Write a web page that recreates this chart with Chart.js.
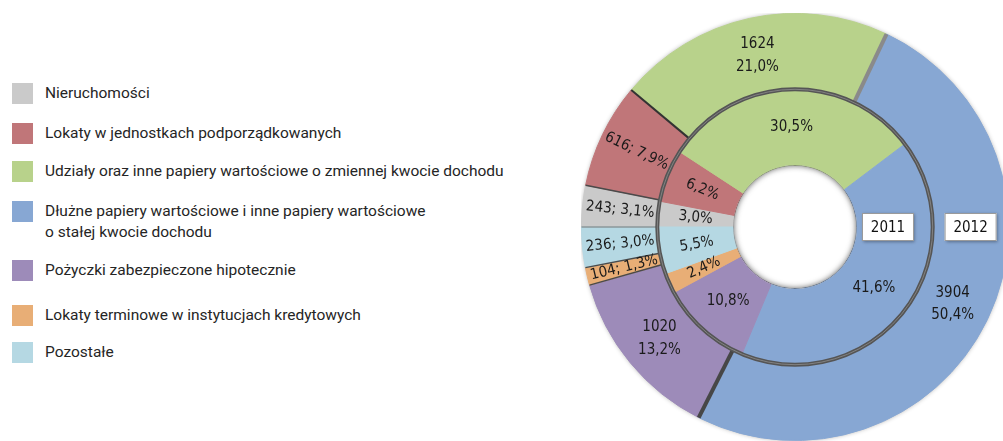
<!DOCTYPE html>
<html lang="pl">
<head>
<meta charset="utf-8">
<title>Struktura lokat</title>
<script src="https://cdn.jsdelivr.net/npm/chart.js@4/dist/chart.umd.min.js"></script>
<style>
  html, body { margin: 0; padding: 0; width: 1003px; height: 441px; overflow: hidden; background: #fff; }
  #legend { position: absolute; left: 12px; top: 0; font-family: Roboto, sans-serif; font-size: 15.5px; color: #252525; }
  .item { position: absolute; left: 0; display: flex; align-items: flex-start; white-space: pre; }
  .swatch { width: 21px; height: 21px; flex: none; }
  .text { margin-left: 12px; line-height: 21px; }
  #wrap { position: absolute; left: 581px; top: 13px; width: 428px; height: 428px; }
</style>
</head>
<body>
<div id="legend"></div>
<div id="wrap"><canvas id="rings" width="428" height="428"></canvas></div>
<script>
const categories = [
  "Nieruchomości",
  "Lokaty w jednostkach podporządkowanych",
  "Udziały oraz inne papiery wartościowe o zmiennej kwocie dochodu",
  "Dłużne papiery wartościowe i inne papiery wartościowe\no stałej kwocie dochodu",
  "Pożyczki zabezpieczone hipotecznie",
  "Lokaty terminowe w instytucjach kredytowych",
  "Pozostałe",
];
const values2012 = [243, 616, 1624, 3904, 1020, 104, 236];
const shares2012 = [3.1, 7.9, 21.0, 50.4, 13.2, 1.3, 3.0];
const shares2011 = [3.0, 6.2, 30.5, 41.6, 10.8, 2.4, 5.5];
const seriesNames = ["2012", "2011"];

const colors = ["#cacaca", "#c07679", "#b8d28b", "#87a7d3", "#9d8bb9", "#e8ae76", "#b5d8e3"];
const legendTops = [83, 123, 161, 201, 260, 305, 342];

// legenda po lewej stronie
const legend = document.getElementById("legend");
categories.forEach((name, i) => {
  const item = document.createElement("div");
  item.className = "item";
  item.style.top = legendTops[i] + "px";
  const sw = document.createElement("div");
  sw.className = "swatch";
  sw.style.background = colors[i];
  const txt = document.createElement("div");
  txt.className = "text";
  txt.textContent = name;
  item.appendChild(sw);
  item.appendChild(txt);
  legend.appendChild(item);
});

const fmtPct = (v) => v.toFixed(1).replace(".", ",") + "%";
const labelFont = "15px 'DejaVu Sans Condensed', 'DejaVu Sans', sans-serif";

// cień pod pierścieniem zewnętrznym
const ringShadow = {
  id: "ringShadow",
  beforeDatasetsDraw(chart) {
    const arc = chart.getDatasetMeta(0).data[0];
    const ctx = chart.ctx;
    ctx.save();
    ctx.shadowColor = "rgba(0,0,0,0.45)";
    ctx.shadowBlur = 5;
    ctx.fillStyle = "#fff";
    ctx.beginPath();
    ctx.arc(arc.x, arc.y, arc.outerRadius - 1, 0, Math.PI * 2);
    ctx.fill();
    ctx.restore();
  },
};

// linie podziału, etykiety wartości i nazwy serii
const ringDecor = {
  id: "ringDecor",
  afterDatasetsDraw(chart) {
    const ctx = chart.ctx;
    const outer = chart.getDatasetMeta(0).data;
    const inner = chart.getDatasetMeta(1).data;
    const cx = outer[0].x, cy = outer[0].y;
    const rOut = outer[0].outerRadius;
    const rMid = outer[0].innerRadius;
    const rHole = inner[0].innerRadius;

    // podziały segmentów w pierścieniu 2012
    outer.forEach((arc, i) => {
      let color = "#4a4a4a", width = 1.5;
      if (i === 3) { color = "#8a8a8a"; width = 4; }
      if (i === 4) { color = "#474747"; width = 4; }
      if (i === 2) { color = "#333"; width = 2; }
      if (i === 0) { color = "#777"; width = 1; }
      const a = arc.startAngle;
      ctx.save();
      ctx.strokeStyle = color;
      ctx.lineWidth = width;
      ctx.beginPath();
      ctx.moveTo(cx + Math.cos(a) * rMid, cy + Math.sin(a) * rMid);
      ctx.lineTo(cx + Math.cos(a) * rOut, cy + Math.sin(a) * rOut);
      ctx.stroke();
      ctx.restore();
    });

    // okrąg między pierścieniami
    ctx.save();
    ctx.strokeStyle = "#555";
    ctx.lineWidth = 4;
    ctx.beginPath();
    ctx.arc(cx, cy, rMid, 0, Math.PI * 2);
    ctx.stroke();
    ctx.strokeStyle = "rgba(150,150,150,0.7)";
    ctx.lineWidth = 1;
    ctx.beginPath();
    ctx.arc(cx, cy, rMid, 0, Math.PI * 2);
    ctx.stroke();
    ctx.restore();

    // cień wewnątrz otworu
    ctx.save();
    ctx.beginPath();
    ctx.arc(cx, cy, rHole, 0, Math.PI * 2);
    ctx.clip();
    ctx.shadowColor = "rgba(0,0,0,0.75)";
    ctx.shadowBlur = 6;
    ctx.strokeStyle = "#fff";
    ctx.lineWidth = 10;
    ctx.beginPath();
    ctx.arc(cx, cy, rHole + 5, 0, Math.PI * 2);
    ctx.stroke();
    ctx.restore();

    // etykiety
    chart.data.datasets.forEach((ds, d) => {
      const meta = chart.getDatasetMeta(d);
      meta.data.forEach((arc, i) => {
        const mid = (arc.startAngle + arc.endAngle) / 2;
        const r = (arc.innerRadius + arc.outerRadius) / 2;
        const x = cx + Math.cos(mid) * r;
        const y = cy + Math.sin(mid) * r;
        const share = ds.shares[i];
        const small = share < 10;
        let lines;
        if (d === 0) {
          lines = small ? [ds.data[i] + "; " + fmtPct(share)] : [String(ds.data[i]), fmtPct(share)];
        } else {
          lines = [fmtPct(share)];
        }
        ctx.save();
        ctx.translate(x, y);
        if (small) {
          const rot = mid - Math.PI;
          ctx.rotate(Math.atan2(Math.sin(rot), Math.cos(rot)));
        }
        ctx.font = labelFont;
        ctx.fillStyle = "#1a1a1a";
        ctx.textAlign = "center";
        ctx.textBaseline = "middle";
        const lh = 22.5;
        lines.forEach((t, k) => {
          ctx.fillText(t, 0, (k - (lines.length - 1) / 2) * lh);
        });
        ctx.restore();
      });

      // nazwa serii w ramce po prawej stronie pierścienia
      const a0 = meta.data[0];
      const bx = cx + a0.innerRadius + (a0.outerRadius - a0.innerRadius) * ds.nameAnchor;
      const by = cy;
      const w = 52, h = 28;
      ctx.save();
      ctx.shadowColor = "rgba(0,0,0,0.35)";
      ctx.shadowBlur = 3;
      ctx.shadowOffsetX = 1;
      ctx.shadowOffsetY = 1;
      ctx.fillStyle = "#fff";
      ctx.fillRect(bx - w / 2, by - h / 2, w, h);
      ctx.restore();
      ctx.save();
      ctx.strokeStyle = "#9a9a9a";
      ctx.lineWidth = 1;
      ctx.strokeRect(bx - w / 2 + 0.5, by - h / 2 + 0.5, w - 1, h - 1);
      ctx.font = "15px 'DejaVu Sans Condensed', 'DejaVu Sans', sans-serif";
      ctx.fillStyle = "#111";
      ctx.textAlign = "center";
      ctx.textBaseline = "middle";
      ctx.fillText(ds.label, bx, by + 1);
      ctx.restore();
    });
  },
};

const ctx = document.getElementById("rings");
const ringsChart = new Chart(ctx, {
  type: "doughnut",
  data: {
    labels: categories,
    datasets: [
      {
        label: seriesNames[0],
        data: values2012,
        shares: shares2012,
        nameAnchor: 0.5,
        backgroundColor: colors,
        borderColor: colors,
        borderWidth: 1,
      },
      {
        label: seriesNames[1],
        data: shares2011,
        shares: shares2011,
        nameAnchor: 0.41,
        backgroundColor: colors,
        borderColor: colors,
        borderWidth: 1,
      },
    ],
  },
  options: {
    responsive: false,
    devicePixelRatio: 1,
    animation: false,
    cutout: "29%",
    rotation: -90,
    layout: { padding: 0 },
    plugins: {
      legend: { display: false },
      tooltip: { enabled: false },
    },
  },
  plugins: [ringShadow, ringDecor],
});
</script>
</body>
</html>
